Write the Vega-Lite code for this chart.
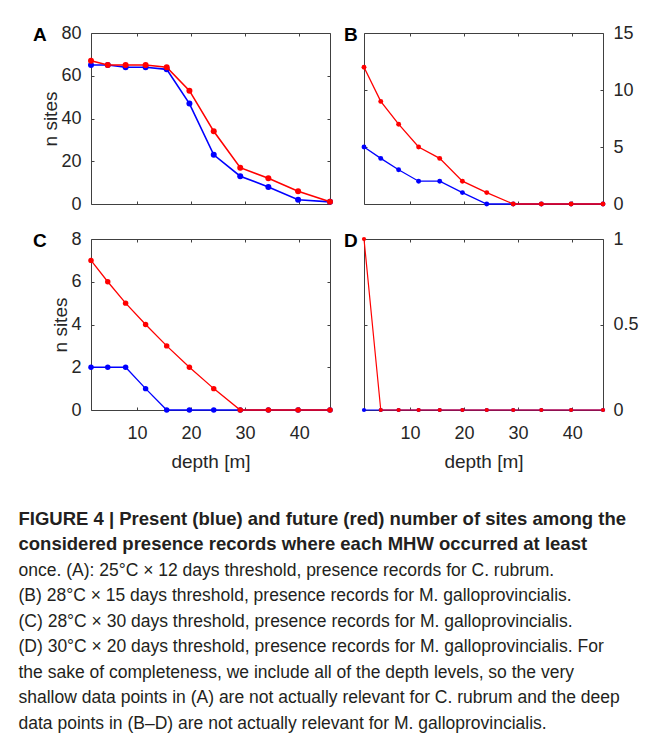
{
  "$schema": "https://vega.github.io/schema/vega-lite/v6.json",
  "padding": {"left": 18, "top": 23, "right": 5, "bottom": 2},
  "autosize": {"type": "pad"},
  "datasets": {
    "pts": [
      {"panel": "A", "scenario": "present", "depth": 1.5, "n": 65},
      {"panel": "A", "scenario": "present", "depth": 4.6, "n": 65},
      {"panel": "A", "scenario": "present", "depth": 7.9, "n": 64},
      {"panel": "A", "scenario": "present", "depth": 11.6, "n": 64},
      {"panel": "A", "scenario": "present", "depth": 15.5, "n": 63},
      {"panel": "A", "scenario": "present", "depth": 19.7, "n": 47},
      {"panel": "A", "scenario": "present", "depth": 24.2, "n": 23},
      {"panel": "A", "scenario": "present", "depth": 29.1, "n": 13},
      {"panel": "A", "scenario": "present", "depth": 34.3, "n": 8},
      {"panel": "A", "scenario": "present", "depth": 39.8, "n": 2},
      {"panel": "A", "scenario": "present", "depth": 45.7, "n": 1},
      {"panel": "A", "scenario": "future", "depth": 1.5, "n": 67},
      {"panel": "A", "scenario": "future", "depth": 4.6, "n": 65},
      {"panel": "A", "scenario": "future", "depth": 7.9, "n": 65},
      {"panel": "A", "scenario": "future", "depth": 11.6, "n": 65},
      {"panel": "A", "scenario": "future", "depth": 15.5, "n": 64},
      {"panel": "A", "scenario": "future", "depth": 19.7, "n": 53},
      {"panel": "A", "scenario": "future", "depth": 24.2, "n": 34},
      {"panel": "A", "scenario": "future", "depth": 29.1, "n": 17},
      {"panel": "A", "scenario": "future", "depth": 34.3, "n": 12},
      {"panel": "A", "scenario": "future", "depth": 39.8, "n": 6},
      {"panel": "A", "scenario": "future", "depth": 45.7, "n": 1},
      {"panel": "B", "scenario": "present", "depth": 1.5, "n": 5},
      {"panel": "B", "scenario": "present", "depth": 4.6, "n": 4},
      {"panel": "B", "scenario": "present", "depth": 7.9, "n": 3},
      {"panel": "B", "scenario": "present", "depth": 11.6, "n": 2},
      {"panel": "B", "scenario": "present", "depth": 15.5, "n": 2},
      {"panel": "B", "scenario": "present", "depth": 19.7, "n": 1},
      {"panel": "B", "scenario": "present", "depth": 24.2, "n": 0},
      {"panel": "B", "scenario": "present", "depth": 29.1, "n": 0},
      {"panel": "B", "scenario": "present", "depth": 34.3, "n": 0},
      {"panel": "B", "scenario": "present", "depth": 39.8, "n": 0},
      {"panel": "B", "scenario": "present", "depth": 45.7, "n": 0},
      {"panel": "B", "scenario": "future", "depth": 1.5, "n": 12},
      {"panel": "B", "scenario": "future", "depth": 4.6, "n": 9},
      {"panel": "B", "scenario": "future", "depth": 7.9, "n": 7},
      {"panel": "B", "scenario": "future", "depth": 11.6, "n": 5},
      {"panel": "B", "scenario": "future", "depth": 15.5, "n": 4},
      {"panel": "B", "scenario": "future", "depth": 19.7, "n": 2},
      {"panel": "B", "scenario": "future", "depth": 24.2, "n": 1},
      {"panel": "B", "scenario": "future", "depth": 29.1, "n": 0},
      {"panel": "B", "scenario": "future", "depth": 34.3, "n": 0},
      {"panel": "B", "scenario": "future", "depth": 39.8, "n": 0},
      {"panel": "B", "scenario": "future", "depth": 45.7, "n": 0},
      {"panel": "C", "scenario": "present", "depth": 1.5, "n": 2},
      {"panel": "C", "scenario": "present", "depth": 4.6, "n": 2},
      {"panel": "C", "scenario": "present", "depth": 7.9, "n": 2},
      {"panel": "C", "scenario": "present", "depth": 11.6, "n": 1},
      {"panel": "C", "scenario": "present", "depth": 15.5, "n": 0},
      {"panel": "C", "scenario": "present", "depth": 19.7, "n": 0},
      {"panel": "C", "scenario": "present", "depth": 24.2, "n": 0},
      {"panel": "C", "scenario": "present", "depth": 29.1, "n": 0},
      {"panel": "C", "scenario": "present", "depth": 34.3, "n": 0},
      {"panel": "C", "scenario": "present", "depth": 39.8, "n": 0},
      {"panel": "C", "scenario": "present", "depth": 45.7, "n": 0},
      {"panel": "C", "scenario": "future", "depth": 1.5, "n": 7},
      {"panel": "C", "scenario": "future", "depth": 4.6, "n": 6},
      {"panel": "C", "scenario": "future", "depth": 7.9, "n": 5},
      {"panel": "C", "scenario": "future", "depth": 11.6, "n": 4},
      {"panel": "C", "scenario": "future", "depth": 15.5, "n": 3},
      {"panel": "C", "scenario": "future", "depth": 19.7, "n": 2},
      {"panel": "C", "scenario": "future", "depth": 24.2, "n": 1},
      {"panel": "C", "scenario": "future", "depth": 29.1, "n": 0},
      {"panel": "C", "scenario": "future", "depth": 34.3, "n": 0},
      {"panel": "C", "scenario": "future", "depth": 39.8, "n": 0},
      {"panel": "C", "scenario": "future", "depth": 45.7, "n": 0},
      {"panel": "D", "scenario": "present", "depth": 1.5, "n": 0},
      {"panel": "D", "scenario": "present", "depth": 4.6, "n": 0},
      {"panel": "D", "scenario": "present", "depth": 7.9, "n": 0},
      {"panel": "D", "scenario": "present", "depth": 11.6, "n": 0},
      {"panel": "D", "scenario": "present", "depth": 15.5, "n": 0},
      {"panel": "D", "scenario": "present", "depth": 19.7, "n": 0},
      {"panel": "D", "scenario": "present", "depth": 24.2, "n": 0},
      {"panel": "D", "scenario": "present", "depth": 29.1, "n": 0},
      {"panel": "D", "scenario": "present", "depth": 34.3, "n": 0},
      {"panel": "D", "scenario": "present", "depth": 39.8, "n": 0},
      {"panel": "D", "scenario": "present", "depth": 45.7, "n": 0},
      {"panel": "D", "scenario": "future", "depth": 1.5, "n": 1},
      {"panel": "D", "scenario": "future", "depth": 4.6, "n": 0},
      {"panel": "D", "scenario": "future", "depth": 7.9, "n": 0},
      {"panel": "D", "scenario": "future", "depth": 11.6, "n": 0},
      {"panel": "D", "scenario": "future", "depth": 15.5, "n": 0},
      {"panel": "D", "scenario": "future", "depth": 19.7, "n": 0},
      {"panel": "D", "scenario": "future", "depth": 24.2, "n": 0},
      {"panel": "D", "scenario": "future", "depth": 29.1, "n": 0},
      {"panel": "D", "scenario": "future", "depth": 34.3, "n": 0},
      {"panel": "D", "scenario": "future", "depth": 39.8, "n": 0},
      {"panel": "D", "scenario": "future", "depth": 45.7, "n": 0}
    ]
  },
  "data": {"name": "pts"},
  "title": {
    "text": ["FIGURE 4 | Present (blue) and future (red) number of sites among the", "considered presence records where each MHW occurred at least"],
    "subtitle": [
      "once. (A): 25°C × 12 days threshold, presence records for C. rubrum.",
      "(B) 28°C × 15 days threshold, presence records for M. galloprovincialis.",
      "(C) 28°C × 30 days threshold, presence records for M. galloprovincialis.",
      "(D) 30°C × 20 days threshold, presence records for M. galloprovincialis. For",
      "the sake of completeness, we include all of the depth levels, so the very",
      "shallow data points in (A) are not actually relevant for C. rubrum and the deep",
      "data points in (B–D) are not actually relevant for M. galloprovincialis."
    ],
    "orient": "bottom",
    "anchor": "start",
    "frame": "bounds",
    "offset": 38,
    "dx": -14,
    "font": "Liberation Sans",
    "fontSize": 18.5,
    "fontWeight": "bold",
    "color": "#231f20",
    "lineHeight": 25.5,
    "subtitleFont": "Liberation Sans",
    "subtitleFontSize": 17.5,
    "subtitleColor": "#231f20",
    "subtitleLineHeight": 25.5,
    "subtitlePadding": 8
  },
  "concat": [
    {
      "width": 239, "height": 171,
      "transform": [{"filter": "datum.panel === 'A'"}],
      "title": {"text": "A", "anchor": "start", "frame": "group", "dx": -58, "dy": 36, "offset": 0, "baseline": "alphabetic", "fontSize": 19, "fontWeight": "bold"},
      "layer": [
        {
          "transform": [{"filter": "datum.scenario === 'present'"}],
          "mark": {"type": "line", "color": "#0000ff", "strokeWidth": 1.6, "point": {"filled": true, "size": 36, "color": "#0000ff", "opacity": 1}},
          "encoding": {
            "x": {"field": "depth", "type": "quantitative", "scale": {"domain": [1.5, 45.7], "nice": false, "zero": false}, "axis": {"orient": "bottom", "values": [10, 20, 30, 40], "labels": false, "title": null}},
            "y": {"field": "n", "type": "quantitative", "scale": {"domain": [0, 80], "nice": false}, "axis": {"orient": "left", "values": [0, 20, 40, 60, 80], "title": "n sites"}}
          }
        },
        {
          "transform": [{"filter": "datum.scenario === 'future'"}],
          "mark": {"type": "line", "color": "#ff0000", "strokeWidth": 1.6, "point": {"filled": true, "size": 36, "color": "#ff0000", "opacity": 1}},
          "encoding": {
            "x": {"field": "depth", "type": "quantitative", "scale": {"domain": [1.5, 45.7], "nice": false, "zero": false}, "axis": {"orient": "top", "values": [10, 20, 30, 40], "labels": false, "title": null}},
            "y": {"field": "n", "type": "quantitative", "scale": {"domain": [0, 80], "nice": false}, "axis": {"orient": "right", "values": [0, 20, 40, 60, 80], "labels": false, "title": null}}
          }
        }
      ],
      "resolve": {"scale": {"x": "independent", "y": "independent"}, "axis": {"x": "independent", "y": "independent"}}
    },
    {
      "width": 239, "height": 171,
      "transform": [{"filter": "datum.panel === 'B'"}],
      "title": {"text": "B", "anchor": "start", "frame": "group", "dx": -20, "dy": 36, "offset": 0, "baseline": "alphabetic", "fontSize": 19, "fontWeight": "bold"},
      "layer": [
        {
          "transform": [{"filter": "datum.scenario === 'present'"}],
          "mark": {"type": "line", "color": "#0000ff", "strokeWidth": 1.3, "point": {"filled": true, "size": 24, "color": "#0000ff", "opacity": 1}},
          "encoding": {
            "x": {"field": "depth", "type": "quantitative", "scale": {"domain": [1.5, 45.7], "nice": false, "zero": false}, "axis": {"orient": "bottom", "values": [10, 20, 30, 40], "labels": false, "title": null}},
            "y": {"field": "n", "type": "quantitative", "scale": {"domain": [0, 15], "nice": false}, "axis": {"orient": "left", "values": [0, 5, 10, 15], "labels": false, "title": null}}
          }
        },
        {
          "transform": [{"filter": "datum.scenario === 'future'"}],
          "mark": {"type": "line", "color": "#ff0000", "strokeWidth": 1.3, "point": {"filled": true, "size": 24, "color": "#ff0000", "opacity": 1}},
          "encoding": {
            "x": {"field": "depth", "type": "quantitative", "scale": {"domain": [1.5, 45.7], "nice": false, "zero": false}, "axis": {"orient": "top", "values": [10, 20, 30, 40], "labels": false, "title": null}},
            "y": {"field": "n", "type": "quantitative", "scale": {"domain": [0, 15], "nice": false}, "axis": {"orient": "right", "values": [0, 5, 10, 15], "title": null}}
          }
        }
      ],
      "resolve": {"scale": {"x": "independent", "y": "independent"}, "axis": {"x": "independent", "y": "independent"}}
    },
    {
      "width": 239, "height": 171,
      "transform": [{"filter": "datum.panel === 'C'"}],
      "title": {"text": "C", "anchor": "start", "frame": "group", "dx": -58, "dy": 36, "offset": 0, "baseline": "alphabetic", "fontSize": 19, "fontWeight": "bold"},
      "layer": [
        {
          "transform": [{"filter": "datum.scenario === 'present'"}],
          "mark": {"type": "line", "color": "#0000ff", "strokeWidth": 1.3, "point": {"filled": true, "size": 30, "color": "#0000ff", "opacity": 1}},
          "encoding": {
            "x": {"field": "depth", "type": "quantitative", "scale": {"domain": [1.5, 45.7], "nice": false, "zero": false}, "axis": {"orient": "bottom", "values": [10, 20, 30, 40], "title": "depth [m]"}},
            "y": {"field": "n", "type": "quantitative", "scale": {"domain": [0, 8], "nice": false}, "axis": {"orient": "left", "values": [0, 2, 4, 6, 8], "title": "n sites"}}
          }
        },
        {
          "transform": [{"filter": "datum.scenario === 'future'"}],
          "mark": {"type": "line", "color": "#ff0000", "strokeWidth": 1.3, "point": {"filled": true, "size": 30, "color": "#ff0000", "opacity": 1}},
          "encoding": {
            "x": {"field": "depth", "type": "quantitative", "scale": {"domain": [1.5, 45.7], "nice": false, "zero": false}, "axis": {"orient": "top", "values": [10, 20, 30, 40], "labels": false, "title": null}},
            "y": {"field": "n", "type": "quantitative", "scale": {"domain": [0, 8], "nice": false}, "axis": {"orient": "right", "values": [0, 2, 4, 6, 8], "labels": false, "title": null}}
          }
        }
      ],
      "resolve": {"scale": {"x": "independent", "y": "independent"}, "axis": {"x": "independent", "y": "independent"}}
    },
    {
      "width": 239, "height": 171,
      "transform": [{"filter": "datum.panel === 'D'"}],
      "title": {"text": "D", "anchor": "start", "frame": "group", "dx": -20, "dy": 36, "offset": 0, "baseline": "alphabetic", "fontSize": 19, "fontWeight": "bold"},
      "layer": [
        {
          "transform": [{"filter": "datum.scenario === 'present'"}],
          "mark": {"type": "line", "color": "#0000ff", "strokeWidth": 1.2, "point": {"filled": true, "size": 18, "color": "#0000ff", "opacity": 1}},
          "encoding": {
            "x": {"field": "depth", "type": "quantitative", "scale": {"domain": [1.5, 45.7], "nice": false, "zero": false}, "axis": {"orient": "bottom", "values": [10, 20, 30, 40], "title": "depth [m]"}},
            "y": {"field": "n", "type": "quantitative", "scale": {"domain": [0, 1], "nice": false}, "axis": {"orient": "left", "values": [0, 0.5, 1], "labels": false, "title": null}}
          }
        },
        {
          "transform": [{"filter": "datum.scenario === 'future'"}],
          "mark": {"type": "line", "color": "#ff0000", "strokeWidth": 1.2, "point": {"filled": true, "size": 18, "color": "#ff0000", "opacity": 1}},
          "encoding": {
            "x": {"field": "depth", "type": "quantitative", "scale": {"domain": [1.5, 45.7], "nice": false, "zero": false}, "axis": {"orient": "top", "values": [10, 20, 30, 40], "labels": false, "title": null}},
            "y": {"field": "n", "type": "quantitative", "scale": {"domain": [0, 1], "nice": false}, "axis": {"orient": "right", "values": [0, 0.5, 1], "format": "~g", "title": null}}
          }
        }
      ],
      "resolve": {"scale": {"x": "independent", "y": "independent"}, "axis": {"x": "independent", "y": "independent"}}
    }
  ],
  "columns": 2,
  "spacing": {"row": 35, "column": 34},
  "bounds": "flush",
  "config": {
    "font": "Liberation Sans",
    "view": {"stroke": "#404040", "strokeWidth": 1},
    "title": {"color": "#000000", "font": "Liberation Sans"},
    "axis": {
      "domain": false,
      "grid": false,
      "tickSize": -3,
      "tickColor": "#404040",
      "tickWidth": 1,
      "labelFont": "Liberation Sans",
      "labelFontSize": 18,
      "labelColor": "#262626",
      "labelPadding": 13,
      "titleFont": "Liberation Sans",
      "titleFontSize": 19,
      "titleFontWeight": "normal",
      "titleColor": "#262626",
      "titlePadding": 0
    },
    "axisBottom": {"labelPadding": 17, "titlePadding": 10}
  }
}
